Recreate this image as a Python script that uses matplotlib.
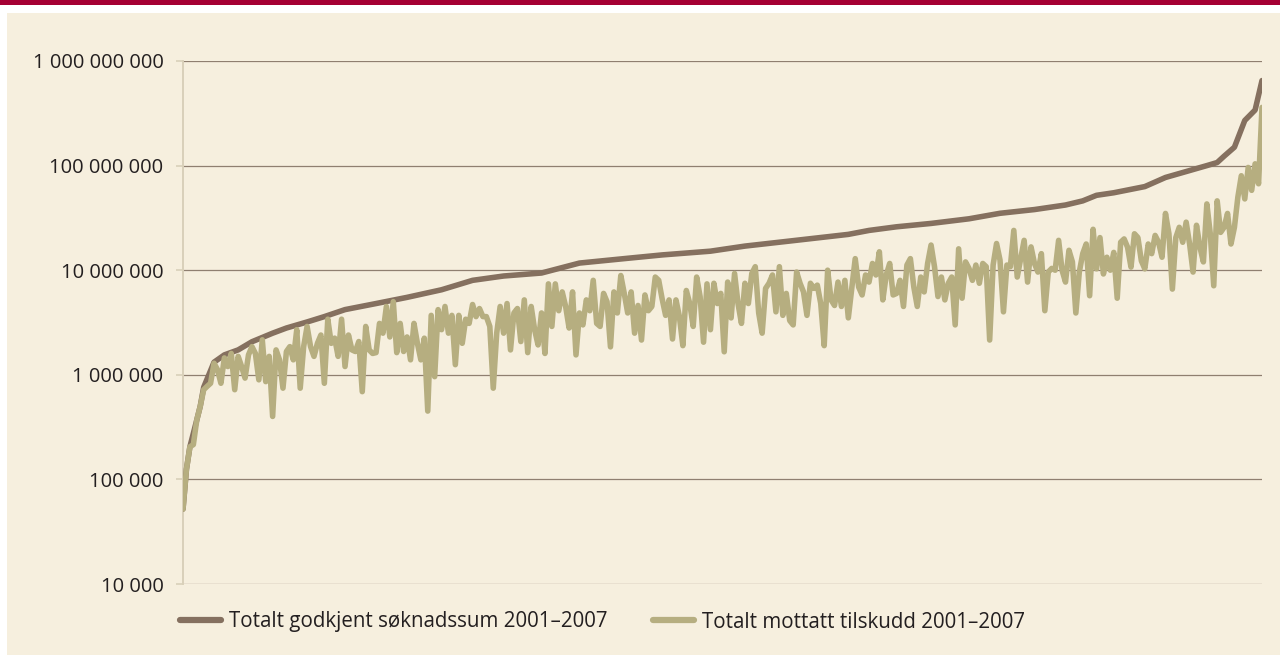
import matplotlib
matplotlib.use("Agg")
import matplotlib.pyplot as plt
from matplotlib.patches import Rectangle
from matplotlib.ticker import FixedLocator, FuncFormatter, NullLocator

# Totalt mottatt tilskudd 2001-2007, one value per project (sorted by approved sum)
received = [
    52_000, 125_000, 205_000, 215_000, 370_000, 500_000, 720_000,
    775_000, 830_000, 1_290_000, 1_120_000, 830_000, 1_450_000, 1_200_000, 1_600_000,
    720_000, 1_500_000, 1_200_000, 930_000, 1_550_000, 1_860_000, 1_600_000, 895_000,
    2_160_000, 860_000, 1_500_000, 400_000, 1_730_000, 1_390_000, 745_000, 1_670_000,
    1_860_000, 1_390_000, 2_700_000, 745_000, 1_860_000, 2_900_000, 1_860_000, 1_500_000,
    2_000_000, 2_400_000, 830_000, 3_400_000, 2_000_000, 2_240_000, 1_500_000, 3_400_000,
    1_200_000, 2_400_000, 1_730_000, 1_670_000, 2_080_000, 690_000, 2_900_000, 1_730_000,
    1_600_000,
    1_630_000, 3_100_000, 2_500_000, 4_500_000, 2_300_000, 5_000_000, 1_630_000, 3_100_000,
    1_670_000, 2_300_000, 1_390_000, 3_100_000, 2_000_000, 1_390_000, 2_240_000, 450_000,
    3_700_000, 960_000, 4_200_000, 2_700_000, 4_500_000, 2_500_000, 3_700_000, 1_250_000,
    3_700_000, 2_000_000, 3_400_000, 3_100_000, 4_700_000, 3_600_000, 4_300_000, 3_600_000,
    3_600_000, 2_900_000, 745_000, 2_500_000, 4_500_000, 2_500_000, 4_800_000, 1_730_000,
    3_900_000, 4_300_000, 2_080_000, 5_200_000, 1_630_000, 4_500_000, 2_700_000, 1_930_000,
    3_900_000,
    1_600_000, 7_400_000, 2_900_000, 7_400_000, 4_100_000, 6_200_000, 4_500_000, 2_800_000,
    6_200_000, 1_550_000, 3_900_000, 3_000_000, 5_200_000, 4_100_000, 8_000_000, 3_100_000,
    2_900_000, 6_000_000, 5_000_000, 1_850_000, 6_200_000, 3_900_000, 8_900_000, 6_000_000,
    3_900_000, 6_200_000, 2_500_000, 4_600_000, 2_150_000, 5_800_000, 4_100_000, 4_500_000,
    8_600_000, 8_000_000, 5_300_000, 3_700_000, 5_200_000, 2_200_000, 5_200_000, 3_600_000,
    1_900_000, 6_400_000, 4_800_000, 2_900_000, 8_600_000, 5_600_000, 2_050_000, 7_400_000,
    2_700_000, 7_500_000, 4_800_000, 6_000_000, 1_660_000, 7_700_000, 3_500_000, 9_300_000,
    4_800_000, 3_100_000, 7_500_000, 4_800_000, 9_300_000, 10_800_000, 3_900_000, 2_500_000,
    6_700_000, 7_500_000, 9_000_000, 4_000_000, 10_800_000, 3_700_000, 6_000_000, 3_300_000,
    3_000_000, 9_600_000, 7_500_000, 6_200_000, 3_700_000, 7_500_000, 6_700_000, 7_200_000,
    4_800_000, 1_900_000, 10_000_000, 5_200_000, 4_600_000, 7_700_000, 4_500_000, 8_000_000,
    3_500_000, 6_700_000, 12_900_000, 6_900_000, 5_800_000, 9_000_000, 7_700_000, 11_600_000,
    9_000_000, 15_000_000, 5_200_000, 9_000_000, 11_600_000, 5_800_000,
    6_000_000, 8_000_000, 4_500_000, 11_200_000, 12_900_000, 6_900_000, 4_500_000, 8_600_000,
    6_200_000, 11_600_000, 17_400_000, 10_800_000, 5_600_000, 8_600_000, 5_200_000, 7_500_000,
    8_600_000, 3_000_000, 16_000_000, 5_400_000, 12_000_000, 10_400_000, 8_000_000, 11_200_000,
    7_500_000, 11_600_000, 10_800_000, 2_150_000, 11_200_000, 18_000_000, 12_500_000, 4_000_000,
    11_200_000, 10_800_000, 24_000_000, 8_600_000, 12_900_000, 19_300_000, 7_700_000, 16_700_000,
    11_600_000, 9_600_000, 14_400_000, 4_100_000, 9_600_000, 10_400_000, 10_000_000, 19_300_000,
    10_000_000, 7_700_000, 15_500_000, 12_000_000, 3_900_000, 9_600_000, 14_400_000,
    17_800_000, 5_700_000, 24_600_000, 10_300_000, 20_500_000, 9_200_000, 13_300_000, 10_000_000,
    14_800_000, 5_400_000, 18_500_000, 19_900_000, 16_600_000, 10_700_000, 22_300_000, 20_500_000,
    12_300_000, 10_300_000, 17_800_000, 14_400_000, 21_500_000, 18_500_000, 13_300_000, 34_900_000,
    22_300_000, 6_600_000, 20_500_000, 25_700_000, 18_500_000, 28_800_000, 17_800_000, 9_600_000,
    26_900_000, 16_600_000, 12_000_000, 43_000_000, 22_300_000, 7_100_000, 46_000_000, 23_000_000,
    25_700_000, 34_900_000, 17_800_000, 25_700_000, 50_000_000, 80_000_000, 48_000_000, 96_000_000,
    58_000_000, 104_000_000, 67_000_000, 360_000_000,
]

# Totalt godkjent søknadssum 2001-2007, read at these project ranks (1-based)
approved_rank = [1, 2, 3, 5, 6, 7, 10, 13, 17, 21, 27, 31, 37, 42, 48, 57, 66, 76, 85, 94,
                 105, 116, 130, 140, 154, 164, 177, 194, 200, 208, 218, 229, 238, 248, 257,
                 262, 266, 271, 280, 286, 290, 298, 301, 303, 306, 309, 312, 314]
approved = [52_000, 125_000, 205_000, 370_000, 500_000, 760_000, 1_320_000, 1_550_000,
            1_730_000, 2_070_000, 2_500_000, 2_800_000, 3_200_000, 3_600_000, 4_200_000,
            4_800_000, 5_500_000, 6_500_000, 8_000_000, 8_800_000, 9_400_000, 11_700_000,
            13_000_000, 14_000_000, 15_200_000, 17_000_000, 19_000_000, 22_000_000,
            24_000_000, 26_000_000, 28_000_000, 31_000_000, 35_000_000, 38_000_000,
            42_000_000, 46_000_000, 52_000_000, 55_000_000, 63_000_000, 77_000_000,
            84_000_000, 100_000_000, 107_000_000, 123_000_000, 150_000_000, 270_000_000,
            340_000_000, 650_000_000]

y_ticks = [10_000, 100_000, 1_000_000, 10_000_000, 100_000_000, 1_000_000_000]
labels = ["Totalt godkjent søknadssum 2001–2007", "Totalt mottatt tilskudd 2001–2007"]

brown = "#85705F"
olive = "#B6AE80"
cream = "#F6EFDE"
grid_col = "#8F7F70"

plt.rcParams["font.family"] = ["Open Sans", "DejaVu Sans"]

fig = plt.figure(figsize=(12.8, 6.55), dpi=100)
fig.patch.set_facecolor("white")
# cream panel and the thin red band on top
fig.add_artist(Rectangle((7 / 1280, 0), 1, 1 - 13 / 655, transform=fig.transFigure,
                         facecolor=cream, edgecolor="none", zorder=0))
fig.add_artist(Rectangle((0, 1 - 5 / 655), 1, 5 / 655, transform=fig.transFigure,
                         facecolor="#A50034", edgecolor="none", zorder=0))

ax = fig.add_axes([183 / 1280, 1 - 584 / 655, (1262 - 183) / 1280, (584 - 61) / 655])
ax.set_facecolor("none")

ranks = list(range(1, len(received) + 1))
ax.plot(approved_rank, approved, color=brown, lw=4, solid_joinstyle="round",
        solid_capstyle="round", label=labels[0], zorder=3)
ax.plot(ranks, received, color=olive, lw=4, solid_joinstyle="round",
        solid_capstyle="round", label=labels[1], zorder=4)

ax.set_yscale("log")
ax.set_ylim(y_ticks[0], y_ticks[-1])
ax.set_xlim(1, len(received))
ax.yaxis.set_major_locator(FixedLocator(y_ticks))
ax.yaxis.set_minor_locator(NullLocator())
ax.yaxis.set_major_formatter(FuncFormatter(lambda v, p: f"{v:,.0f}".replace(",", " ")))
ax.set_xticks([])
ax.grid(axis="y", color=grid_col, lw=0.9)
ax.set_axisbelow(True)
for s in ["top", "right", "bottom"]:
    ax.spines[s].set_visible(False)
ax.spines["left"].set_color("#D9D0B9")
ax.spines["left"].set_linewidth(1.4)
ax.tick_params(axis="y", length=5, width=1.2, color="#D9D0B9", pad=9,
               labelsize=14.5, labelcolor="#231F20")

leg = ax.legend(loc="center left", bbox_to_anchor=(180 / 1280, 1 - 622 / 655),
                bbox_transform=fig.transFigure, ncol=2, frameon=False, fontsize=14.8,
                handlelength=2.0, handletextpad=0.4, columnspacing=2.2,
                borderpad=0, borderaxespad=0)
for t in leg.get_texts():
    t.set_color("#231F20")
for h in leg.get_lines():
    h.set_linewidth(4.5)
    h.set_solid_capstyle("round")

fig.savefig("out.png", dpi=100)
